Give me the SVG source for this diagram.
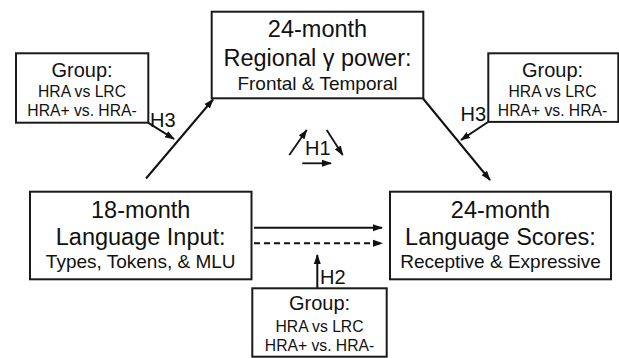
<svg xmlns="http://www.w3.org/2000/svg" width="619" height="358" viewBox="0 0 619 358">
<style>
.box{fill:#fff;stroke:#1a1a1a;stroke-width:2}
text{font-family:"Liberation Sans",Arial,sans-serif;fill:#111;text-anchor:middle}
.t{font-size:23.5px}
.s{font-size:19px}
.g{font-size:20px}
.gl{font-size:15.7px}
.h{font-size:20px;text-anchor:start}
.c{stroke:#111;stroke-width:2;fill:none;marker-end:url(#ah)}
.thin{stroke-width:1.8}
</style>
<defs>
<marker id="ah" markerUnits="userSpaceOnUse" markerWidth="10" markerHeight="8" refX="9" refY="4" orient="auto">
<path d="M0,0.5 L10,4 L0,7.5 z" fill="#111"/>
</marker>
</defs>
<rect width="619" height="358" fill="#fff"/>
<g id="connectors">
<line class="c" x1="146" y1="178.5" x2="213" y2="99.5"/>
<line class="c" x1="423" y1="98.5" x2="490" y2="180"/>
<line class="c" x1="148" y1="122.7" x2="174" y2="139"/>
<line class="c" x1="488" y1="122" x2="461" y2="140"/>
<line class="c" x1="254" y1="227.7" x2="382" y2="227.7"/>
<line class="c" x1="254" y1="243.3" x2="382" y2="243.3" stroke-dasharray="6,4"/>
<line class="c" x1="317.3" y1="288" x2="317.3" y2="255"/>
<line class="c thin" x1="289.3" y1="155" x2="306.7" y2="130"/>
<line class="c thin" x1="326.7" y1="130" x2="342.7" y2="155"/>
<line class="c thin" x1="302.3" y1="163.3" x2="331" y2="163.3"/>
<text class="h" x="150" y="127.3">H3</text>
<text class="h" x="460.5" y="120.5">H3</text>
<text class="h" x="305" y="155">H1</text>
<text class="h" x="320" y="284">H2</text>
</g>
<g id="regional-gamma">
<rect class="box" x="211.7" y="11.7" width="211.6" height="86.6"/>
<text class="t" x="317.5" y="37">24-month</text>
<text class="t" x="317.5" y="66">Regional γ power:</text>
<text class="s" x="317.5" y="90">Frontal &amp; Temporal</text>
</g>
<g id="language-input">
<rect class="box" x="30" y="191.7" width="221.5" height="87.6"/>
<text class="t" x="140.7" y="218.3">18-month</text>
<text class="t" x="140.7" y="245.3">Language Input:</text>
<text class="s" x="140.7" y="268.3">Types, Tokens, &amp; MLU</text>
</g>
<g id="language-scores">
<rect class="box" x="390" y="191.7" width="221" height="87.6"/>
<text class="t" x="500.5" y="218.3">24-month</text>
<text class="t" x="500.5" y="245.3">Language Scores:</text>
<text class="s" x="500.5" y="268.3">Receptive &amp; Expressive</text>
</g>
<g id="group-left">
<rect class="box" x="16" y="53.3" width="132.3" height="69.4"/>
<text class="g" x="82" y="77">Group:</text>
<text class="gl" x="82" y="97.3">HRA vs LRC</text>
<text class="gl" x="82" y="115.7">HRA+ vs. HRA-</text>
</g>
<g id="group-right">
<rect class="box" x="488.3" y="53.3" width="130" height="68.6"/>
<text class="g" x="552.5" y="77">Group:</text>
<text class="gl" x="552.5" y="97.3">HRA vs LRC</text>
<text class="gl" x="552.5" y="115.7">HRA+ vs. HRA-</text>
</g>
<g id="group-bottom">
<rect class="box" x="252.3" y="288.3" width="134.4" height="68.4"/>
<text class="g" x="319.5" y="310">Group:</text>
<text class="gl" x="319.5" y="331.7">HRA vs LRC</text>
<text class="gl" x="319.5" y="351">HRA+ vs. HRA-</text>
</g>
</svg>
